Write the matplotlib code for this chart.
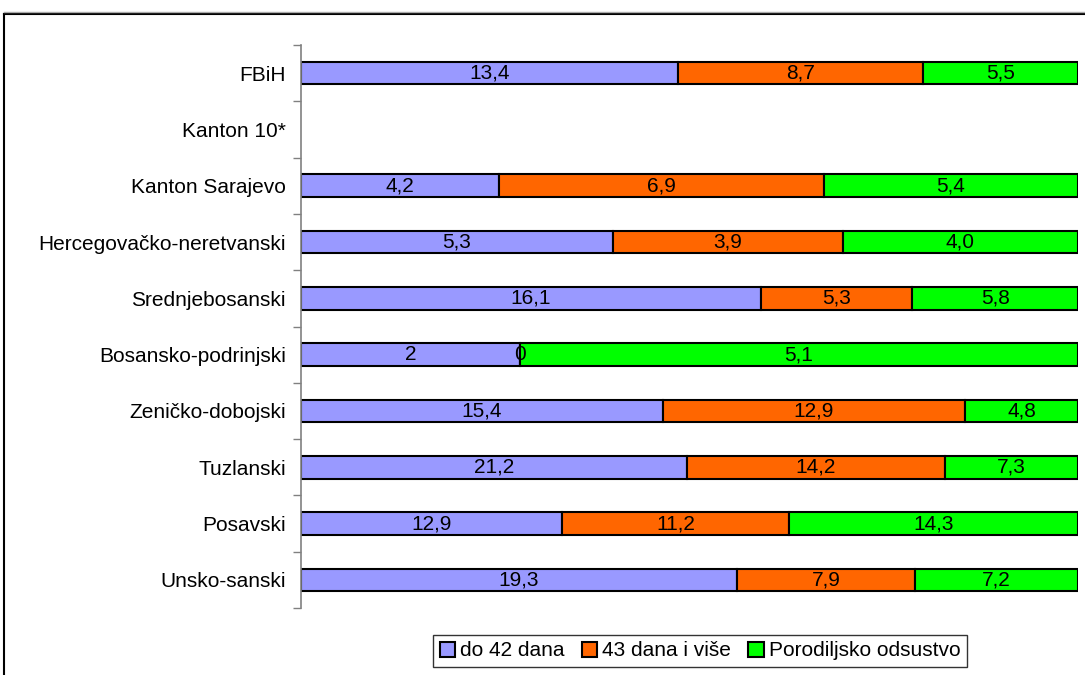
import numpy as np
import matplotlib.pyplot as plt
from matplotlib.lines import Line2D

plt.rcParams['font.family'] = ['Liberation Sans', 'DejaVu Sans']

# Kantoni (odozdo prema gore)
kantoni = ["Unsko-sanski", "Posavski", "Tuzlanski", "Zeničko-dobojski",
           "Bosansko-podrinjski", "Srednjebosanski", "Hercegovačko-neretvanski",
           "Kanton Sarajevo", "Kanton 10*", "FBiH"]

do_42 = [19.3, 12.9, 21.2, 15.4, 2, 16.1, 5.3, 4.2, np.nan, 13.4]
od_43 = [7.9, 11.2, 14.2, 12.9, 0, 5.3, 3.9, 6.9, np.nan, 8.7]
porodiljsko = [7.2, 14.3, 7.3, 4.8, 5.1, 5.8, 4.0, 5.4, np.nan, 5.5]

serije = ["do 42 dana", "43 dana i više", "Porodiljsko odsustvo"]
boje = ["#9999FF", "#FF6600", "#00FF00"]


def fmt(v):
    s = ("%.1f" % v).replace(".", ",")
    if v == int(v) and v in (0, 2):
        s = str(int(v))
    return s


fig = plt.figure(figsize=(10.85, 6.75), dpi=100)
ax = fig.add_axes([301 / 1085, 67 / 675, 777 / 1085, 563 / 675])

data = np.array([do_42, od_43, porodiljsko], dtype=float)
ukupno = np.nansum(data, axis=0)
y = np.arange(len(kantoni))
lijevo = np.zeros(len(kantoni))

for vrijednosti, boja, ime in zip(data, boje, serije):
    udio = np.where(ukupno > 0, vrijednosti / np.where(ukupno > 0, ukupno, 1), np.nan)
    ax.barh(y, udio, left=lijevo, height=0.4, color=boja, edgecolor="black",
            linewidth=1.5, label=ime)
    for i in range(len(kantoni)):
        if np.isnan(vrijednosti[i]):
            continue
        ax.text(lijevo[i] + udio[i] / 2, y[i], fmt(vrijednosti[i]),
                ha="center", va="center", fontsize=15)
    lijevo = lijevo + np.nan_to_num(udio)

ax.set_xlim(0, 1)
ax.set_ylim(-0.5, len(kantoni) - 0.5)
ax.set_yticks(y)
ax.set_yticklabels(kantoni, fontsize=15)
ax.tick_params(axis="y", length=0, pad=11)
ax.set_yticks(np.arange(-0.5, len(kantoni)), minor=True)
ax.tick_params(axis="y", which="minor", length=6, color="#808080", width=1)
ax.set_xticks([])
for s in ["top", "right", "bottom"]:
    ax.spines[s].set_visible(False)
ax.spines["left"].set_color("#808080")
ax.spines["left"].set_linewidth(1.2)

# okvir grafikona
fig.add_artist(Line2D([4 / 1085, 4 / 1085], [0, 661 / 675], color="black",
                      lw=1.5, transform=fig.transFigure))
fig.add_artist(Line2D([4 / 1085, 1], [661 / 675, 661 / 675], color="black",
                      lw=1.5, transform=fig.transFigure))
fig.add_artist(Line2D([4 / 1085, 1], [663 / 675, 663 / 675], color="#aaaaaa",
                      lw=1, transform=fig.transFigure))

leg = fig.legend(loc="center", bbox_to_anchor=(700 / 1085, 24 / 675), ncol=3,
                 fontsize=15, frameon=True, fancybox=False, edgecolor="black",
                 handlelength=0.75, handleheight=0.75, handletextpad=0.25,
                 columnspacing=0.8, borderpad=0.3)
leg.get_frame().set_linewidth(1)

fig.savefig("out.png", dpi=100)
